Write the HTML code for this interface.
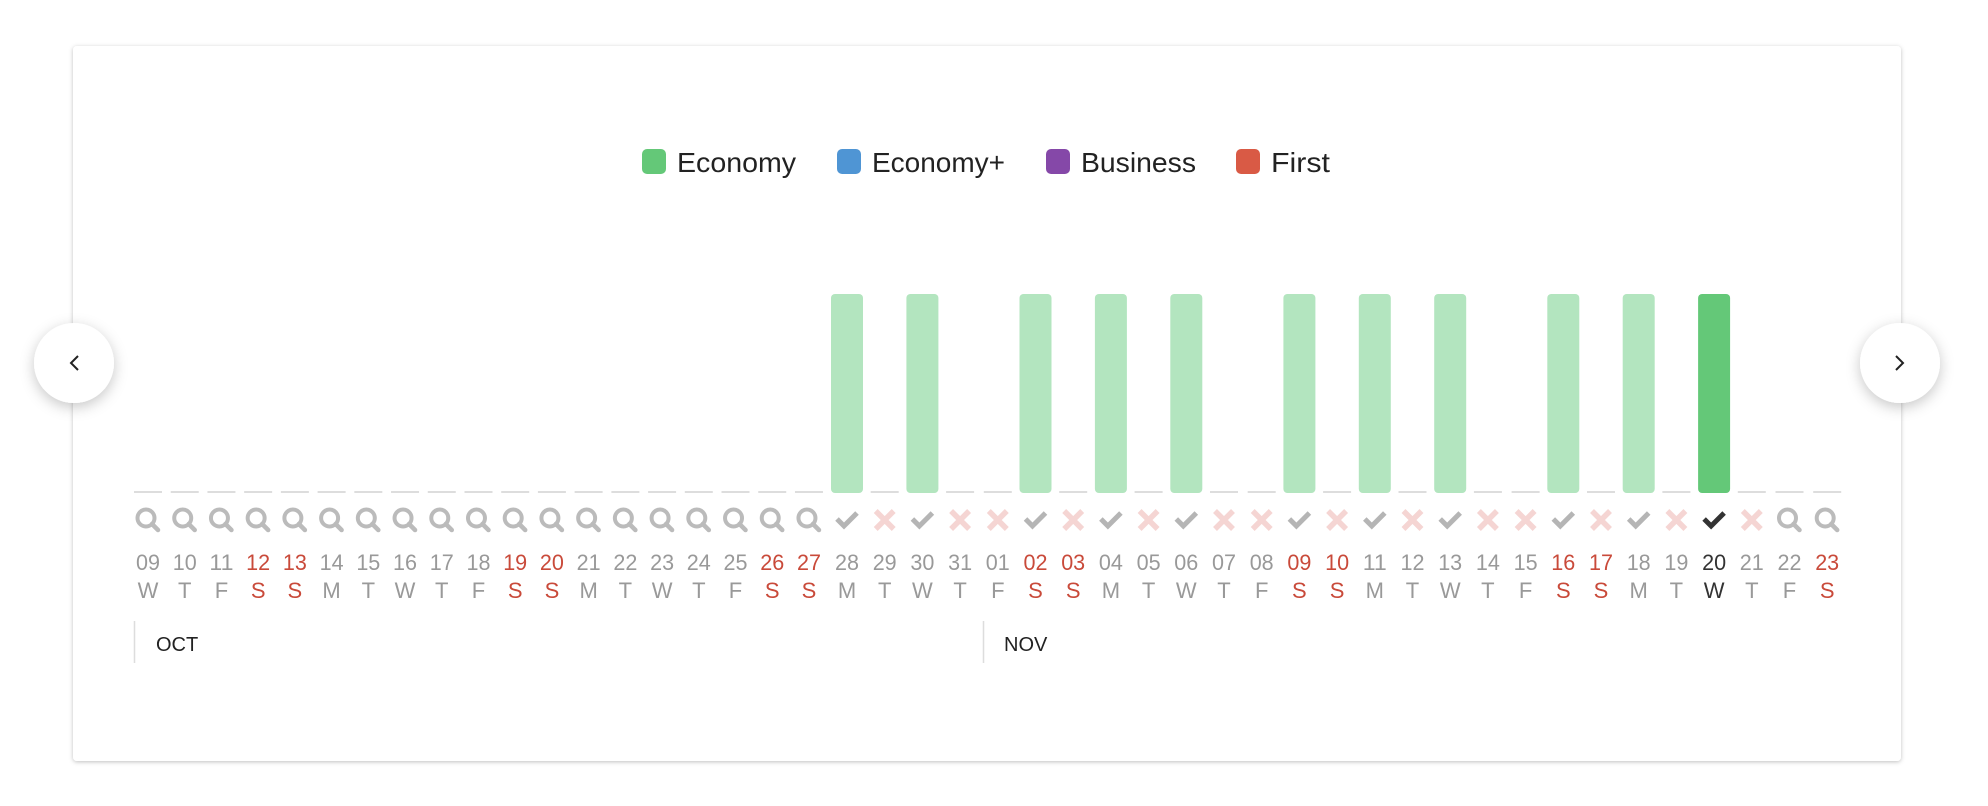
<!DOCTYPE html>
<html><head><meta charset="utf-8"><style>
body{margin:0;background:#fff;font-family:"Liberation Sans",sans-serif;}
svg{display:block}
</style></head><body>
<svg width="1988" height="806" viewBox="0 0 1988 806">
<defs>
<filter id="sh" x="-10%" y="-10%" width="120%" height="120%"><feDropShadow dx="0" dy="1" stdDeviation="2" flood-color="#000" flood-opacity="0.25"/></filter>
<filter id="bs" x="-50%" y="-50%" width="200%" height="200%"><feDropShadow dx="0" dy="4" stdDeviation="7" flood-color="#000" flood-opacity="0.22"/></filter>
</defs>
<rect x="73" y="46" width="1828" height="715" rx="4" fill="#fff" filter="url(#sh)"/>
<g id="legend" font-size="28" fill="#222">
<g><rect x="642" y="149" width="24" height="25" rx="5" fill="#64c878"/><text x="677" y="172" textLength="119" lengthAdjust="spacingAndGlyphs">Economy</text></g>
<g><rect x="837" y="149" width="24" height="25" rx="5" fill="#4f95d4"/><text x="872" y="172" textLength="133" lengthAdjust="spacingAndGlyphs">Economy+</text></g>
<g><rect x="1046" y="149" width="24" height="25" rx="5" fill="#8548a8"/><text x="1081" y="172" textLength="115" lengthAdjust="spacingAndGlyphs">Business</text></g>
<g><rect x="1236" y="149" width="24" height="25" rx="5" fill="#d95a45"/><text x="1271" y="172" textLength="59" lengthAdjust="spacingAndGlyphs">First</text></g>
</g>
<g id="plot"></g>
<g><line x1="134.5" y1="621" x2="134.5" y2="663" stroke="#ddd" stroke-width="1.5"/><text x="156" y="651" font-size="20" fill="#222">OCT</text></g>
<g><line x1="983.5" y1="621" x2="983.5" y2="663" stroke="#ddd" stroke-width="1.5"/><text x="1004" y="651" font-size="20" fill="#222">NOV</text></g>
<g><circle cx="74" cy="363" r="40" fill="#fff" filter="url(#bs)"/><path d="M78 356 L71 363 L78 370" fill="none" stroke="#222" stroke-width="2"/></g>
<g><circle cx="1900" cy="363" r="40" fill="#fff" filter="url(#bs)"/><path d="M1896 356 L1903 363 L1896 370" fill="none" stroke="#222" stroke-width="2"/></g>
</svg>
<script>
const days=["09","10","11","12","13","14","15","16","17","18","19","20","21","22","23","24","25","26","27","28","29","30","31","01","02","03","04","05","06","07","08","09","10","11","12","13","14","15","16","17","18","19","20","21","22","23"];
const weekdays=["W","T","F","S","S","M","T","W","T","F","S","S","M","T","W","T","F","S","S","M","T","W","T","F","S","S","M","T","W","T","F","S","S","M","T","W","T","F","S","S","M","T","W","T","F","S"];
const economy=[0,0,0,0,0,0,0,0,0,0,0,0,0,0,0,0,0,0,0,1,0,1,0,0,1,0,1,0,1,0,0,1,0,1,0,1,0,0,1,0,1,0,1,0,0,0];
const status=["q","q","q","q","q","q","q","q","q","q","q","q","q","q","q","q","q","q","q","y","n","y","n","n","y","n","y","n","y","n","n","y","n","y","n","y","n","n","y","n","y","n","y","n","q","q"];
const selected=42;
const maxVal=1;
const ns="http://www.w3.org/2000/svg";
const g=document.getElementById('plot');
const baseY=493, topY=294;
function xs(i){return i<=18 ? 148+i*36.72 : 847+(i-19)*37.7;}
function ys(v){return baseY-(baseY-topY)*v/maxVal;}
function mk(t,a){const e=document.createElementNS(ns,t);for(const k in a)e.setAttribute(k,a[k]);g.appendChild(e);return e;}
days.forEach((d,i)=>{
  const cx=xs(i), sel=i===selected, wk=weekdays[i]==="S";
  if(economy[i]>0){
    const b=mk('rect',{x:cx-16,y:ys(economy[i]),width:32,height:baseY-ys(economy[i]),rx:4,fill:sel?'#64c878':'#b3e5bf'});
    
    
  } else {
    const l=mk('rect',{x:cx-14,y:491,width:28,height:2,fill:'#ddd'});
    
    
  }
  let ic;
  if(status[i]==='q'){
    ic=mk('g',{});
    const c=document.createElementNS(ns,'circle');c.setAttribute('cx',cx-2);c.setAttribute('cy',518);c.setAttribute('r',8.5);c.setAttribute('fill','none');c.setAttribute('stroke','#bbb');c.setAttribute('stroke-width','4');ic.appendChild(c);
    const p=document.createElementNS(ns,'path');p.setAttribute('d',`M${cx+4} ${524} L${cx+10} ${530}`);p.setAttribute('stroke','#bbb');p.setAttribute('stroke-width','4.5');p.setAttribute('stroke-linecap','round');ic.appendChild(p);
    
  } else if(status[i]==='y'){
    ic=mk('path',{d:`M${cx-10} ${519} L${cx-3} ${526} L${cx+10} ${513}`,fill:'none',stroke:sel?'#333':'#b5b5b5','stroke-width':5});
    
  } else {
    ic=mk('path',{d:`M${cx-9} ${511} L${cx+9} ${529} M${cx+9} ${511} L${cx-9} ${529}`,fill:'none',stroke:'#f5d5d3','stroke-width':5.5});
    
  }
  
  const col=sel?'#333':(wk?'#c94a3a':'#999');
  const t=mk('text',{x:cx,y:570,'text-anchor':'middle','font-size':22,fill:col,textLength:24,lengthAdjust:'spacingAndGlyphs'});t.textContent=d;
  
  
  const w=mk('text',{x:cx,y:598,'text-anchor':'middle','font-size':22,fill:col});w.textContent=weekdays[i];
  
  
});
</script>
</body></html>
